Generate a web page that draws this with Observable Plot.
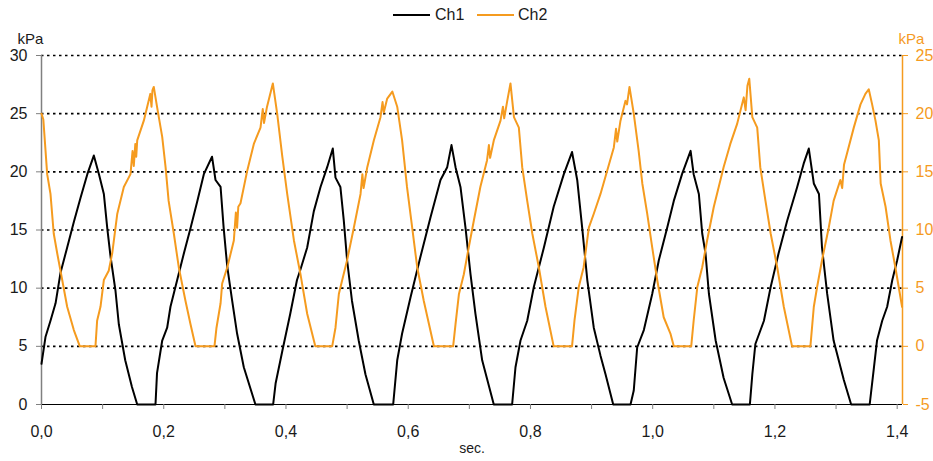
<!DOCTYPE html>
<html>
<head>
<meta charset="utf-8">
<script src="https://cdn.jsdelivr.net/npm/d3@7"></script>
<script src="https://cdn.jsdelivr.net/npm/@observablehq/plot@0.6"></script>
<style>
  html, body { margin: 0; padding: 0; background: #fff; }
  body { font-family: "Liberation Sans", Arial, sans-serif; }
  #wrap { position: relative; width: 933px; height: 461px; overflow: hidden; }
  #legend { position: absolute; top: 0; left: 0; width: 933px; height: 30px; font-size: 16px; color: #1a1a1a; }
  .sw { position: absolute; top: 14px; height: 2px; }
  .lt { position: absolute; top: 6px; line-height: 18px; }
</style>
</head>
<body>
<div id="wrap">
  <div id="chart"></div>
  <div id="legend"></div>
</div>
<script>
// ---- data ----
const seriesNames = ["Ch1", "Ch2"];
const seriesColors = ["#000000", "#f59b1f"];

const ch1Time = [0,0.0065,0.0147,0.023,0.031,0.042,0.053,0.064,0.075,0.0856,0.094,0.102,0.1075,0.113,0.121,0.1265,0.137,0.148,0.1566,0.1865,0.189,0.1975,0.2056,0.211,0.222,0.233,0.244,0.255,0.2656,0.279,0.2847,0.293,0.298,0.304,0.312,0.320,0.331,0.350,0.379,0.383,0.394,0.407,0.418,0.4237,0.4347,0.4455,0.4565,0.4674,0.4766,0.481,0.489,0.4946,0.500,0.508,0.519,0.530,0.5437,0.5754,0.582,0.590,0.6037,0.620,0.6365,0.6528,0.6638,0.6708,0.6774,0.6855,0.6937,0.7019,0.710,0.721,0.740,0.770,0.7755,0.7837,0.7947,0.8055,0.822,0.838,0.8546,0.868,0.8765,0.8846,0.893,0.9036,0.9146,0.9228,0.9354,0.9637,0.969,0.9746,0.9855,0.9992,1.010,1.0237,1.0345,1.048,1.062,1.067,1.0755,1.081,1.0864,1.092,1.103,1.116,1.130,1.159,1.163,1.168,1.182,1.193,1.206,1.220,1.2364,1.247,1.2554,1.2636,1.272,1.277,1.2855,1.296,1.3127,1.3247,1.355,1.362,1.367,1.3755,1.3836,1.392,1.400,1.408];
const ch1Kpa = [3.5,5.8,7.2,8.7,11.3,13.5,15.7,17.8,19.8,21.4,19.8,18.1,15.2,12.7,9.8,6.9,3.8,1.5,0,0,2.7,5.5,6.6,8.4,10.7,13,15.2,17.5,19.8,21.3,19.3,18.7,15.2,11.8,8.9,6.1,3.2,0,0,1.8,4.6,7.8,10.7,11.6,13.5,16.6,18.7,20.4,22.0,19.5,18.7,15.8,12.4,8.9,5.5,2.6,0,0,3.8,6.1,9.2,12.7,16.1,19.3,20.4,22.3,20.4,18.7,15.2,11.2,7.8,3.8,0,0,3.2,5.5,7.2,10.1,13.5,17.0,19.8,21.7,19.3,15.2,10.7,6.6,4.2,2.6,0,0,1.2,4.9,6.4,9.5,12.4,15.2,17.5,19.8,21.8,19.8,18.1,14.7,13.0,9.5,5.5,2.3,0,0,2.6,5.2,7.2,10.1,13.0,15.8,18.7,20.7,22.0,19.0,18.1,13.5,9.5,5.5,2.1,0,0,3.2,5.5,7.2,8.4,10.7,12.4,14.4];

const ch2Time = [0,0.003,0.0093,0.0147,0.020,0.0257,0.0339,0.042,0.0529,0.0627,
  0.0883,0.091,0.0965,0.102,0.110,0.1157,0.124,0.1347,0.1456,0.149,0.151,0.1535,0.155,0.1566,0.1674,0.178,0.180,0.1815,0.1837,
  0.189,0.1975,0.203,0.208,0.2165,0.2246,0.2356,0.2438,0.252,
  0.283,0.2863,0.293,0.2956,0.304,0.3147,0.318,0.320,0.322,0.3256,0.3366,0.3474,0.3583,0.362,0.364,0.369,0.3785,
  0.3856,0.394,0.402,0.413,0.4237,0.4347,0.448,
  0.4756,0.481,0.4865,0.492,0.500,0.511,0.522,0.525,0.527,0.533,0.5437,0.5546,0.558,0.560,0.5656,0.574,
  0.582,0.590,0.598,0.6065,0.6147,0.6255,0.634,0.642,
  0.6735,0.6774,0.683,0.691,0.699,0.7073,0.718,0.729,0.732,0.734,0.740,0.751,0.755,0.757,0.762,0.7673,
  0.773,0.781,0.7865,0.7947,0.803,0.8137,0.8246,0.838,
  0.868,0.872,0.879,0.887,0.8955,0.9036,0.9146,0.9255,0.9364,0.940,0.942,0.9473,0.9555,0.958,0.962,
  0.969,0.977,0.983,0.991,0.9992,1.0074,1.018,1.029,1.0345,
  1.063,1.067,1.073,1.081,1.089,1.100,1.108,1.116,1.127,1.138,1.149,1.152,1.155,1.158,
  1.163,1.171,1.176,1.1845,1.193,1.2037,1.2145,1.228,
  1.258,1.2636,1.269,1.277,1.288,1.296,1.307,1.310,1.313,1.318,1.329,1.340,1.348,1.3535,
  1.359,1.3645,1.370,1.373,1.381,1.389,1.397,1.408];
const ch2Kpa = [20,19.5,14.8,13.1,9.7,8.0,5.7,3.4,1.4,0,
  0,2.2,3.4,5.7,6.5,8.0,11.4,13.7,14.8,16.8,15.5,17.4,16.3,17.7,19.4,21.7,20.6,22.0,22.3,
  20.6,18.0,15.4,12.5,9.7,6.8,3.9,1.9,0,
  0,1.6,3.7,5.4,6.8,9.1,11.5,10.2,12.0,12.3,15.1,17.4,18.8,20.4,19.2,20.6,22.6,
  20.0,16.3,13.1,9.1,6.2,2.8,0,
  0,1.6,4.5,5.7,7.4,10.2,13.1,14.8,13.6,15.4,17.7,19.7,21.0,20.1,21.3,21.9,
  20.6,17.7,13.7,10.2,6.8,3.9,1.9,0,
  0,1.9,4.5,6.2,8.5,10.8,13.7,16.0,17.3,16.2,17.7,19.4,20.6,19.6,21.1,22.6,
  19.7,18.8,15.4,12.5,9.7,6.8,3.4,0,
  0,2.2,5.1,6.8,10.2,11.4,13.1,15.1,17.1,18.7,17.6,19.4,21.1,20.8,22.3,
  20.0,16.8,14.0,11.4,8.5,5.7,2.5,1.1,0,
  0,2.2,5.1,6.8,9.1,12.0,13.7,15.4,17.4,19.1,21.4,20.3,22.4,23.0,
  19.7,18.8,15.4,12.5,9.7,6.8,3.4,0,
  0,3.4,5.1,7.4,10.2,12.5,14.3,13.6,15.6,16.6,18.8,20.8,21.7,22.1,
  20.8,19.4,17.7,14.0,12.0,9.1,6.8,3.4];

const xMinorTicks = [0,0.1,0.2,0.3,0.4,0.5,0.6,0.7,0.8,0.9,1.0,1.1,1.2,1.3,1.4];
const xLabelTicks = [0,0.2,0.4,0.6,0.8,1.0,1.2,1.4];
const yLeftTicks = [0,5,10,15,20,25,30];
const yRightTicks = [-5,0,5,10,15,20,25];
const gridLines = [5,10,15,20,25,30];
const xMax = 1.4087;
const rightOffset = 5; // right axis value = left axis value - 5

// ---- build tables ----
const ch1 = ch1Time.map((t, i) => ({t, v: ch1Kpa[i]}));
const ch2 = ch2Time.map((t, i) => ({t, v: ch2Kpa[i]}));
const fmtComma = d => d.toFixed(1).replace(".", ",");
const orange = seriesColors[1];

const chart = Plot.plot({
  width: 933,
  height: 461,
  marginLeft: 41,
  marginRight: 31,
  marginTop: 55,
  marginBottom: 57,
  style: { fontFamily: "'Liberation Sans', Arial, sans-serif", fontSize: "16px", background: "white", overflow: "visible" },
  x: { domain: [0, xMax] },
  y: { domain: [0, 30] },
  marks: [
    Plot.ruleY(gridLines, { stroke: "#000", strokeWidth: 1.6, strokeDasharray: "2.5,3.5" }),
    Plot.ruleX([0], { stroke: "#808080", strokeWidth: 1.5 }),
    Plot.ruleX([xMax], { stroke: orange, strokeWidth: 1.5 }),
    Plot.ruleY([0], { stroke: "#000", strokeWidth: 1.2 }),
    Plot.axisY(yLeftTicks, { anchor: "left", tickSize: 5, tickPadding: 9, stroke: "#808080", fill: "#1a1a1a", label: null }),
    Plot.axisY(yRightTicks.map(d => d + rightOffset), { anchor: "right", tickSize: 5, tickPadding: 8, stroke: orange, fill: orange, tickFormat: d => String(d - rightOffset), label: null }),
    Plot.axisX(xMinorTicks, { anchor: "bottom", tickSize: 5, stroke: "#808080", tickFormat: () => "", label: null }),
    Plot.axisX(xLabelTicks, { anchor: "bottom", tickSize: 0, tickPadding: 21, fill: "#1a1a1a", tickFormat: fmtComma, label: null }),
    Plot.line(ch1, { x: "t", y: "v", stroke: seriesColors[0], strokeWidth: 2 }),
    Plot.line(ch2, { x: "t", y: d => d.v + rightOffset, stroke: orange, strokeWidth: 2 }),
    Plot.text(["kPa"], { frameAnchor: "top-left", text: d => d, dx: -11, dy: -22, fontSize: 15, fill: "#1a1a1a", textAnchor: "middle" }),
    Plot.text(["kPa"], { frameAnchor: "top-right", text: d => d, dx: 9, dy: -22, fontSize: 15, fill: orange, textAnchor: "middle" }),
    Plot.text(["sec."], { frameAnchor: "bottom", text: d => d, dx: 0, dy: 48, fontSize: 14, fill: "#1a1a1a", textAnchor: "middle" })
  ]
});
document.getElementById("chart").appendChild(chart);

// ---- legend ----
const legend = document.getElementById("legend");
const legendPos = [{line: 393, text: 435}, {line: 477, text: 518}];
seriesNames.forEach((name, i) => {
  const sw = document.createElement("div");
  sw.className = "sw";
  sw.style.left = legendPos[i].line + "px";
  sw.style.width = "37px";
  sw.style.background = seriesColors[i];
  legend.appendChild(sw);
  const tx = document.createElement("div");
  tx.className = "lt";
  tx.style.left = legendPos[i].text + "px";
  tx.textContent = name;
  legend.appendChild(tx);
});
</script>
</body>
</html>
